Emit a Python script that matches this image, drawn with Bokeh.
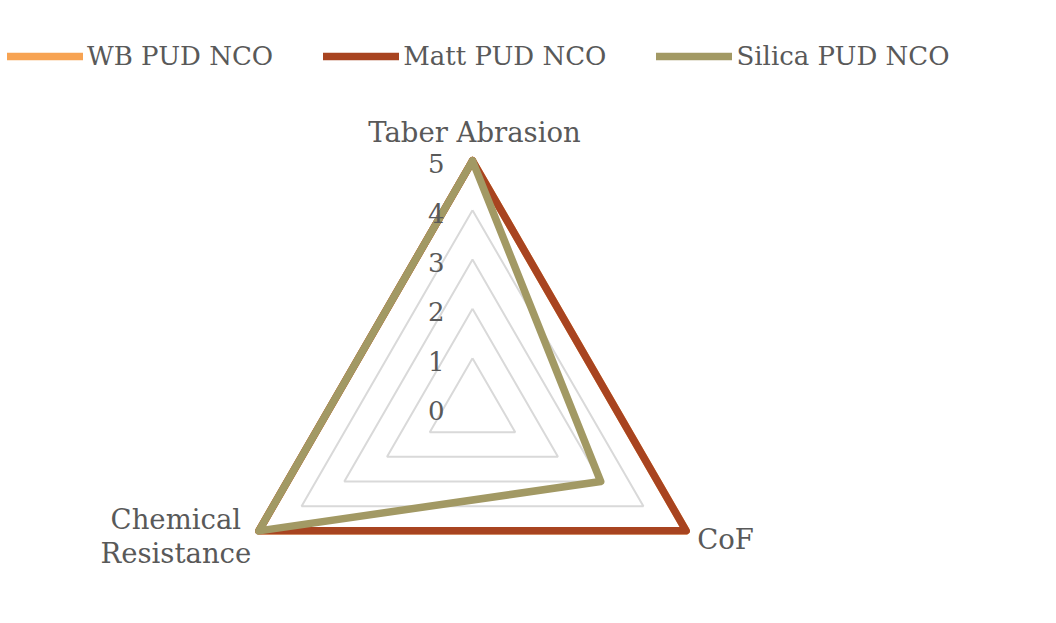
import numpy as np
from bokeh.plotting import figure
from bokeh.models import Range1d, Legend, LegendItem
from bokeh.core.properties import value
from bokeh.embed import file_html
from bokeh.resources import INLINE

# ---- data ----
categories = ["Taber Abrasion", "CoF", "Chemical\nResistance"]
series_names = ["WB PUD NCO", "Matt PUD NCO", "Silica PUD NCO"]
wb_pud = [5, 5, 5]
matt_pud = [5, 5, 5]
silica_pud = [5, 3, 5]
tick_values = [0, 1, 2, 3, 4, 5]
tick_labels = ["0", "1", "2", "3", "4", "5"]
colors = ["#F7A352", "#A84420", "#A29964"]

# ---- layout constants (screen px) ----
W, H = 1040, 607
CX, CY = 472.0, 407.0
RMAX = 246.7
VMAX = 5.0
FONT = "DejaVu Serif"
TXT = "#595959"
angles = np.deg2rad([90.0, -30.0, 210.0])

def to_xy(vals):
    r = np.asarray(vals, float) / VMAX * RMAX
    xs = CX + r * np.cos(angles)
    ys = CY - r * np.sin(angles)
    return list(xs) + [xs[0]], list(ys) + [ys[0]]

p = figure(width=W, height=H, output_backend="svg", toolbar_location=None,
           x_range=Range1d(0, W), y_range=Range1d(H, 0),
           min_border=0, outline_line_color=None)
p.axis.visible = False
p.grid.visible = False
p.background_fill_color = "white"
p.border_fill_color = "white"

# grid rings
gx, gy = [], []
for v in tick_values[1:]:
    xs, ys = to_xy([v] * 3)
    gx.append(xs); gy.append(ys)
p.multi_line(gx, gy, line_color="#D9D9D9", line_width=2)

# series
renderers = []
for name, vals, c in zip(series_names, [wb_pud, matt_pud, silica_pud], colors):
    xs, ys = to_xy(vals)
    r = p.line(xs, ys, line_color=c, line_width=7.5, line_join="round", line_cap="round")
    renderers.append(r)

# tick labels along the top axis
tx = [CX - 28] * len(tick_values)
ty = [CY - v / VMAX * RMAX + 3 for v in tick_values]
p.text(tx, ty, text=tick_labels, text_align="right", text_baseline="middle",
       text_font=value(FONT), text_font_size="26px", text_color=TXT)

# category labels
vx, vy = to_xy([VMAX] * 3)
# Taber Abrasion (top)
p.text([vx[0] + 2], [vy[0] - 29], text=[categories[0]], text_align="center",
       text_baseline="middle", text_font=value(FONT), text_font_size="27.5px", text_color=TXT)
# CoF (bottom right)
p.text([vx[1] + 11], [vy[1] + 8], text=[categories[1]], text_align="left",
       text_baseline="middle", text_font=value(FONT), text_font_size="27.5px", text_color=TXT)
# Chemical Resistance (bottom left), two lines
lines = categories[2].split("\n")
p.text([vx[2] - 83] * 2, [vy[2] - 12, vy[2] + 22], text=lines, text_align="center",
       text_baseline="middle", text_font=value(FONT), text_font_size="27.5px", text_color=TXT)

legend = Legend(items=[LegendItem(label=n, renderers=[r]) for n, r in zip(series_names, renderers)],
                orientation="horizontal", location=(7, 536),
                glyph_width=76, glyph_height=30, label_height=30,
                label_standoff=4, spacing=50, padding=0, margin=0,
                label_text_font=FONT, label_text_font_size="26px",
                label_text_color=TXT, background_fill_alpha=0, border_line_color=None)
p.add_layout(legend, "center")

open("out.html", "w").write(file_html(p, INLINE))
